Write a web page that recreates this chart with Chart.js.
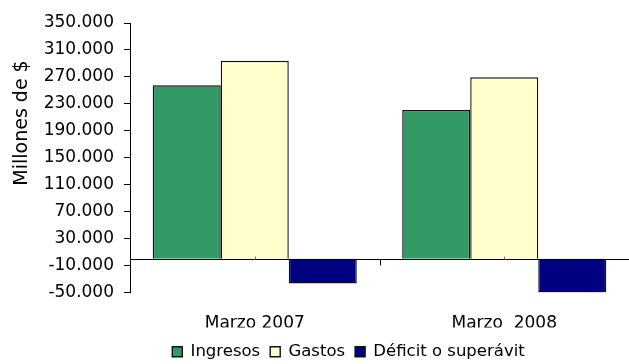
<!DOCTYPE html>
<html>
<head>
<meta charset="utf-8">
<script src="https://cdn.jsdelivr.net/npm/chart.js@4"></script>
<style>
  html, body { margin: 0; padding: 0; background: #fff; }
  #wrap { width: 629px; height: 364px; }
</style>
</head>
<body>
<div id="wrap"><canvas id="fiscal-chart"></canvas></div>
<script>
const categories = ['Marzo 2007', 'Marzo  2008'];
const ingresos = [257600, 220700];
const gastos = [294000, 269300];
const deficit = [-36600, -50000];

const yMin = -50000;
const yMax = 350000;
const yStep = 40000;
const yTitle = 'Millones de $';

function formatThousands(v) {
    const s = Math.abs(v).toString().replace(/\B(?=(\d{3})+(?!\d))/g, '.');
    return (v < 0 ? '-' : '') + s;
}

// zero line, small category ticks, rotated y title, legend nudge
const extras = {
    id: 'extras',
    afterLayout(chart) {
        const lg = chart.legend;
        lg.left += 34;
        lg.right += 34;
        lg.top += 6;
        lg.bottom += 6;
    },
    afterDatasetsDraw(chart) {
        const ctx = chart.ctx;
        const area = chart.chartArea;
        const y0 = Math.round(chart.scales.y.getPixelForValue(0)) + 0.5;
        const x = chart.scales.x;
        ctx.save();
        ctx.strokeStyle = '#000';
        ctx.lineWidth = 1;
        ctx.beginPath();
        ctx.moveTo(area.left, y0);
        ctx.lineTo(area.right, y0);
        for (let i = 0; i < categories.length - 1; i++) {
            const xb = Math.round((x.getPixelForTick(i) + x.getPixelForTick(i + 1)) / 2) + 0.5;
            ctx.moveTo(xb, y0);
            ctx.lineTo(xb, y0 + 6);
        }
        ctx.stroke();
        ctx.strokeStyle = '#777';
        ctx.beginPath();
        for (let i = 0; i < categories.length; i++) {
            const xc = Math.round(x.getPixelForTick(i)) + 0.5;
            ctx.moveTo(xc, y0);
            ctx.lineTo(xc, y0 - 3);
        }
        ctx.stroke();
        ctx.restore();
    },
    afterDraw(chart) {
        const ctx = chart.ctx;
        ctx.save();
        ctx.translate(27, 123);
        ctx.rotate(-Math.PI / 2);
        ctx.font = '19px "DejaVu Sans"';
        ctx.fillStyle = '#000';
        ctx.textAlign = 'center';
        ctx.textBaseline = 'alphabetic';
        ctx.fillText(yTitle, 0, 0);
        ctx.restore();
    }
};

Chart.defaults.font.family = '"DejaVu Sans", Verdana, sans-serif';
Chart.defaults.color = '#000';

new Chart(document.getElementById('fiscal-chart'), {
    type: 'bar',
    data: {
        labels: categories,
        datasets: [
            { label: 'Ingresos', data: ingresos, backgroundColor: '#339966', borderColor: '#111', borderWidth: 1.4 },
            { label: 'Gastos', data: gastos, backgroundColor: '#ffffcc', borderColor: '#111', borderWidth: 1.4 },
            { label: 'Déficit o superávit', data: deficit, backgroundColor: '#000080', borderColor: '#111', borderWidth: 1.4 }
        ]
    },
    options: {
        responsive: true,
        maintainAspectRatio: false,
        animation: false,
        categoryPercentage: 0.818,
        barPercentage: 1,
        layout: { padding: { left: 0, right: 0, top: 23, bottom: 0 } },
        plugins: {
            legend: {
                position: 'bottom',
                labels: {
                    boxWidth: 10,
                    boxHeight: 10,
                    padding: 10,
                    color: '#000',
                    font: { size: 16.5 }
                }
            },
            tooltip: { enabled: false }
        },
        scales: {
            x: {
                grid: { display: false, drawTicks: false },
                border: { display: false },
                ticks: { padding: 21, font: { size: 17 }, color: '#000' },
                afterFit(scale) { scale.height = 35; }
            },
            y: {
                min: yMin,
                max: yMax,
                grid: { drawOnChartArea: false, drawTicks: true, tickLength: 6, color: '#000' },
                border: { display: true, color: '#000', width: 1 },
                ticks: {
                    stepSize: yStep,
                    padding: 10,
                    font: { size: 17 },
                    color: '#000',
                    callback: function(value) {
                        return formatThousands(value);
                    }
                },
                afterFit(scale) { scale.width = 130; }
            }
        }
    },
    plugins: [extras]
});
</script>
</body>
</html>
